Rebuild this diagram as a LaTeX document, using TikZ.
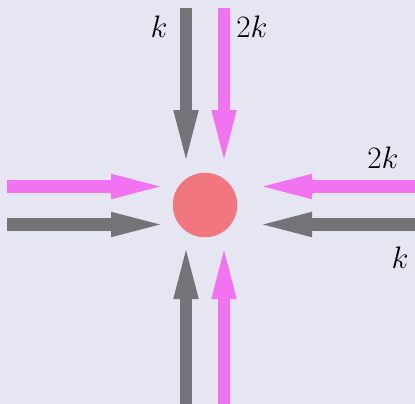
\documentclass[tikz,border=0pt]{standalone}
\usetikzlibrary{arrows.meta}
\definecolor{bg}{RGB}{230,230,242}
\definecolor{grayarr}{RGB}{115,115,120}
\definecolor{pinkarr}{RGB}{242,115,242}
\definecolor{ball}{RGB}{242,118,128}
\begin{document}
\begin{tikzpicture}[x=1pt,y=-1pt,
  flow/.style={line width=12.5pt,-{Triangle[width=25.5pt,length=49pt,line width=0pt]}},
  lbl/.style={font=\Huge,inner sep=0pt,scale=1.25}]
\fill[bg] (0,0) rectangle (415,404);
\useasboundingbox (0,0) rectangle (415,404);
\node[circle,fill=ball,minimum size=64.5pt,inner sep=0pt] (c) at (205,205) {};
% endpoints
\coordinate (tgS) at (186,8);   \coordinate (tgE) at (186,159);
\coordinate (tpS) at (224,8);   \coordinate (tpE) at (224,159);
\coordinate (lpS) at (7,186.5); \coordinate (lpE) at (160,186.5);
\coordinate (lgS) at (7,224.5); \coordinate (lgE) at (160,224.5);
\coordinate (rpS) at (415,186.5); \coordinate (rpE) at (263,186.5);
\coordinate (rgS) at (415,224.5); \coordinate (rgE) at (263,224.5);
\coordinate (bgS) at (186,404); \coordinate (bgE) at (186,250);
\coordinate (bpS) at (224,404); \coordinate (bpE) at (224,250);
\draw[flow,grayarr] (tgS) -- (tgE);
\draw[flow,pinkarr] (tpS) -- (tpE);
\draw[flow,pinkarr] (lpS) -- (lpE);
\draw[flow,grayarr] (lgS) -- (lgE);
\draw[flow,pinkarr] (rpS) -- (rpE);
\draw[flow,grayarr] (rgS) -- (rgE);
\draw[flow,grayarr] (bgS) -- (bgE);
\draw[flow,pinkarr] (bpS) -- (bpE);
\node[lbl] (k1) at (159,27) {$k$};
\node[lbl] (k2) at (252,27) {$2k$};
\node[lbl] (k3) at (383,158) {$2k$};
\node[lbl] (k4) at (400,258) {$k$};
\end{tikzpicture}
\end{document}
